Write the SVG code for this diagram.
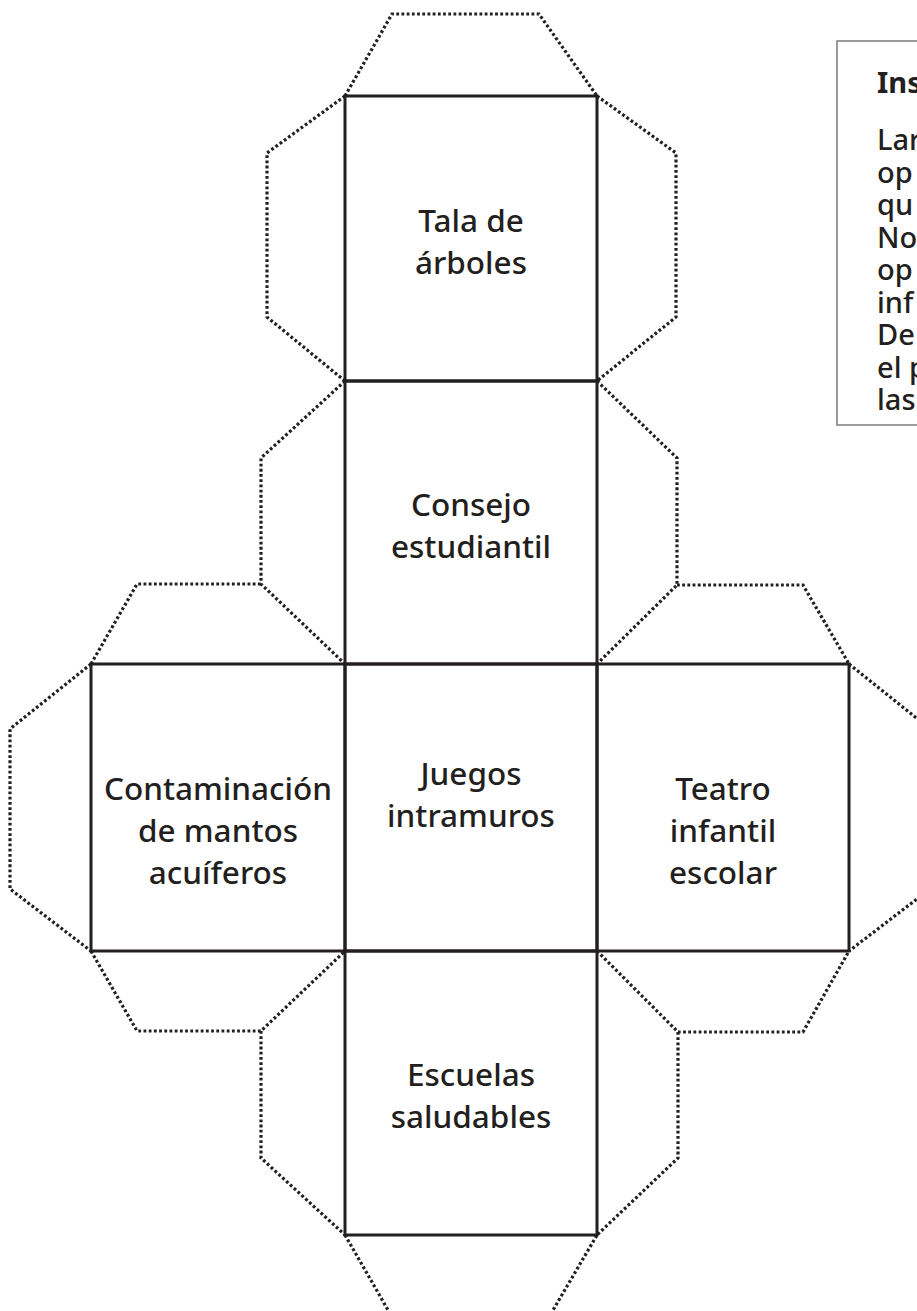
<svg xmlns="http://www.w3.org/2000/svg" width="917" height="1311" viewBox="0 0 917 1311">
<style>
.box{fill:none;stroke:#231f20;stroke-width:3}
.flap{fill:none;stroke:#231f20;stroke-width:3.2;stroke-dasharray:2.8 2.4}
.lbl{font-family:"Noto Sans","Liberation Sans",sans-serif;font-size:31.5px;font-weight:500;fill:#231f20;text-anchor:middle}
.ins{font-family:"Noto Sans","Liberation Sans",sans-serif;font-size:29px;font-weight:500;fill:#231f20}
.ins.hd{font-weight:700}
</style>
<rect width="917" height="1311" fill="#fff"/>
<g id="connectors">
<path class="flap" d="M345,96 L392,14 L539,14 L597,96"/>
<path class="flap" d="M345,96 L267,153 L267,317 L345,381"/>
<path class="flap" d="M597,96 L676,153 L676,317 L597,381"/>
<path class="flap" d="M345,381 L261,458 L261,584 L345,664"/>
<path class="flap" d="M597,381 L677,458 L677,585 L597,664"/>
<path class="flap" d="M91,664 L137,584 L261,584"/>
<path class="flap" d="M677,585 L803,585 L849,664"/>
<path class="flap" d="M91,664 L10,729 L10,889 L91,951"/>
<path class="flap" d="M849,664 L930,729 L930,889 L849,951"/>
<path class="flap" d="M91,951 L137,1031 L261,1031 L345,951"/>
<path class="flap" d="M261,1031 L261,1158 L345,1235"/>
<path class="flap" d="M597,951 L678,1032 L803,1032 L849,951"/>
<path class="flap" d="M678,1032 L678,1158 L597,1235"/>
<path class="flap" d="M345,1235 L392,1317 L549,1317 L597,1235"/>
</g>
<g id="tala">
<rect class="box" x="345" y="96" width="252" height="285"/>
<text class="lbl" x="471" y="232">Tala de</text>
<text class="lbl" x="471" y="274">árboles</text>
</g>
<g id="consejo">
<rect class="box" x="345" y="381" width="252" height="283"/>
<text class="lbl" x="471" y="516">Consejo</text>
<text class="lbl" x="471" y="558">estudiantil</text>
</g>
<g id="contaminacion">
<rect class="box" x="91" y="664" width="254" height="287"/>
<text class="lbl" x="218" y="800">Contaminación</text>
<text class="lbl" x="218" y="842">de mantos</text>
<text class="lbl" x="218" y="884">acuíferos</text>
</g>
<g id="juegos">
<rect class="box" x="345" y="664" width="252" height="287"/>
<text class="lbl" x="471" y="785">Juegos</text>
<text class="lbl" x="471" y="827">intramuros</text>
</g>
<g id="teatro">
<rect class="box" x="597" y="664" width="252" height="287"/>
<text class="lbl" x="723" y="800">Teatro</text>
<text class="lbl" x="723" y="842">infantil</text>
<text class="lbl" x="723" y="884">escolar</text>
</g>
<g id="escuelas">
<rect class="box" x="345" y="951" width="252" height="284"/>
<text class="lbl" x="471" y="1086">Escuelas</text>
<text class="lbl" x="471" y="1128">saludables</text>
</g>
<g id="instrucciones">
<rect x="837" y="41" width="120" height="384" fill="none" stroke="#808285" stroke-width="1.6"/>
<text class="ins hd" x="877" y="93">Ins</text>
<text class="ins" x="877" y="150">Lar</text>
<text class="ins" x="877" y="182.5">op</text>
<text class="ins" x="877" y="215">qu</text>
<text class="ins" x="877" y="247.5">No</text>
<text class="ins" x="877" y="280">op</text>
<text class="ins" x="877" y="312.5">inf</text>
<text class="ins" x="877" y="345">De</text>
<text class="ins" x="877" y="377.5">el p</text>
<text class="ins" x="877" y="410">las</text>
</g>
</svg>
